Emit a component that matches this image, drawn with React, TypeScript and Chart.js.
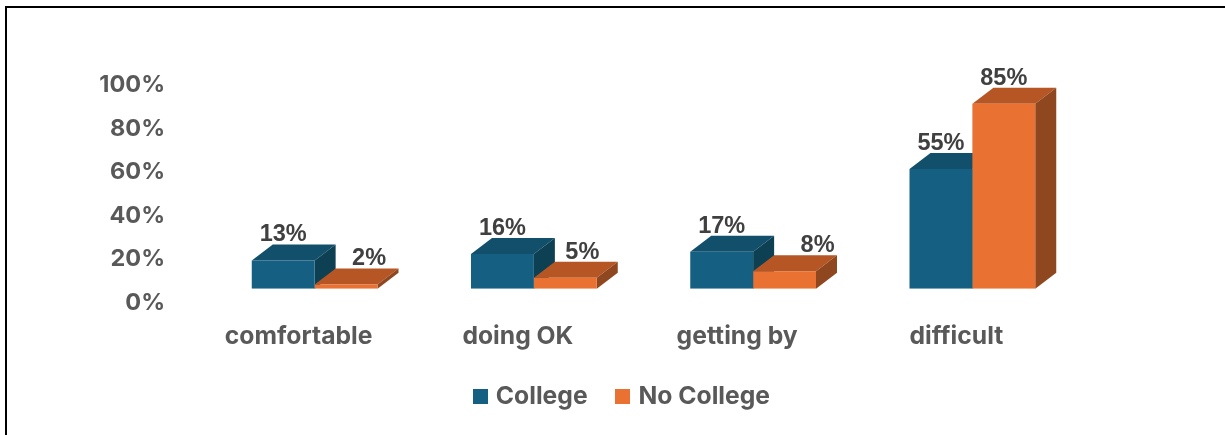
import React, { useEffect, useRef } from "react";
import { Chart, registerables } from "chart.js";

Chart.register(...registerables);

const categories = ["comfortable", "doing OK", "getting by", "difficult"];
const college = [13, 16, 17, 55];
const noCollege = [2, 5, 8, 85];
const yTicks = [0, 20, 40, 60, 80, 100];
// Hand-placed horizontal shift of each value label in the original chart.
const collegeLabelShift = [0, 0, 0, 0];
const noCollegeLabelShift = [23, 17, 33, 0];

const BLUE = "#156082";
const BLUE_TOP = "#124F6B";
const BLUE_SIDE = "#0E4054";
const ORANGE = "#E97132";
const ORANGE_TOP = "#B55624";
const ORANGE_SIDE = "#8F471F";
const DEPTH_X = 21;
const DEPTH_Y = 16;
const AXIS_FONT = "Inter";

const poly = (ctx: CanvasRenderingContext2D, pts: number[][], fill: string) => {
  ctx.fillStyle = fill;
  ctx.beginPath();
  pts.forEach(([x, y], i) => (i ? ctx.lineTo(x, y) : ctx.moveTo(x, y)));
  ctx.closePath();
  ctx.fill();
};

const bars3d = {
  id: "bars3d",
  beforeDatasetsDraw(chart: any) {
    const { ctx } = chart;
    ctx.save();
    chart.data.datasets.forEach((ds: any, di: number) => {
      chart.getDatasetMeta(di).data.forEach((bar: any) => {
        const p = bar.getProps(["x", "y", "base", "width"], true);
        const l = p.x - p.width / 2;
        const r = p.x + p.width / 2;
        poly(
          ctx,
          [
            [l, p.y],
            [l + DEPTH_X, p.y - DEPTH_Y],
            [r + DEPTH_X, p.y - DEPTH_Y],
            [r, p.y],
          ],
          ds.topColor
        );
        poly(
          ctx,
          [
            [r, p.y],
            [r + DEPTH_X, p.y - DEPTH_Y],
            [r + DEPTH_X, p.base - DEPTH_Y],
            [r, p.base],
          ],
          ds.sideColor
        );
      });
    });
    ctx.restore();
  },
  afterDatasetsDraw(chart: any) {
    const { ctx } = chart;
    ctx.save();
    ctx.font = "bold 23.5px 'Liberation Sans'";
    ctx.fillStyle = "#404040";
    ctx.textAlign = "center";
    ctx.textBaseline = "middle";
    chart.data.datasets.forEach((ds: any, di: number) => {
      chart.getDatasetMeta(di).data.forEach((bar: any, i: number) => {
        const p = bar.getProps(["x", "y"], true);
        ctx.fillText(ds.data[i] + "%", p.x + ds.labelShift[i], p.y - DEPTH_Y - 9.5);
      });
    });
    ctx.restore();
  },
};

const swatch = (color: string) => {
  const c = document.createElement("canvas");
  c.width = 15;
  c.height = 15;
  const g = c.getContext("2d")!;
  g.fillStyle = color;
  g.fillRect(0, 0, 15, 15);
  return c;
};

export default function App() {
  const ref = useRef<HTMLCanvasElement>(null);
  useEffect(() => {
    const chart = new Chart(ref.current!, {
      type: "bar",
      plugins: [bars3d],
      data: {
        labels: categories,
        datasets: [
          {
            label: "College",
            data: college,
            backgroundColor: BLUE,
            topColor: BLUE_TOP,
            sideColor: BLUE_SIDE,
            labelShift: collegeLabelShift,
            pointStyle: swatch(BLUE),
          },
          {
            label: "No College",
            data: noCollege,
            backgroundColor: ORANGE,
            topColor: ORANGE_TOP,
            sideColor: ORANGE_SIDE,
            labelShift: noCollegeLabelShift,
            pointStyle: swatch(ORANGE),
          },
        ] as any,
      },
      options: {
        responsive: false,
        animation: false,
        layout: { padding: { top: 71, left: 22, right: 0, bottom: 16 } },
        datasets: { bar: { barPercentage: 1, categoryPercentage: 0.5735 } },
        plugins: {
          tooltip: { enabled: false },
          legend: {
            position: "bottom",
            labels: {
              usePointStyle: true,
              pointStyleWidth: 6.5,
              boxHeight: 15,
              padding: 32,
              color: "#595959",
              font: { family: AXIS_FONT, size: 24.7, weight: "bold" },
            },
          },
        },
        scales: {
          x: {
            grid: { display: false, drawTicks: false },
            border: { display: false },
            ticks: {
              color: "#595959",
              font: { family: AXIS_FONT, size: 24.7, weight: "bold" },
              padding: 33,
              labelOffset: -16,
              maxRotation: 0,
              autoSkip: false,
            },
            afterFit: (s: any) => {
              s.height = 63.55;
            },
          },
          y: {
            min: 0,
            max: 100,
            grid: { display: false, drawTicks: false },
            border: { display: false },
            afterBuildTicks: (s: any) => {
              s.ticks = yTicks.map((value) => ({ value }));
            },
            ticks: {
              color: "#595959",
              font: { family: AXIS_FONT, size: 23.5, weight: "bold" },
              padding: 40,
              labelOffset: 14,
              callback: (v: any) => v + "%",
            },
            afterFit: (s: any) => {
              s.width = 183;
            },
          },
          spacer: {
            type: "linear",
            position: "right",
            grid: { display: false, drawTicks: false },
            border: { display: false },
            ticks: { display: false },
            afterFit: (s: any) => {
              s.width = 143;
            },
          },
        },
      } as any,
    });
    return () => chart.destroy();
  }, []);
  return (
    <div style={{ position: "fixed", left: 0, top: 0, width: 1225, height: 435, background: "#fff", overflow: "hidden" }}>
      <canvas ref={ref} width={1225} height={435} style={{ display: "block" }} />
      <div
        style={{
          position: "absolute",
          left: 5,
          top: 6,
          width: 1240,
          height: 440,
          borderLeft: "2px solid #000",
          borderTop: "2px solid #000",
          boxSizing: "border-box",
        }}
      />
    </div>
  );
}
